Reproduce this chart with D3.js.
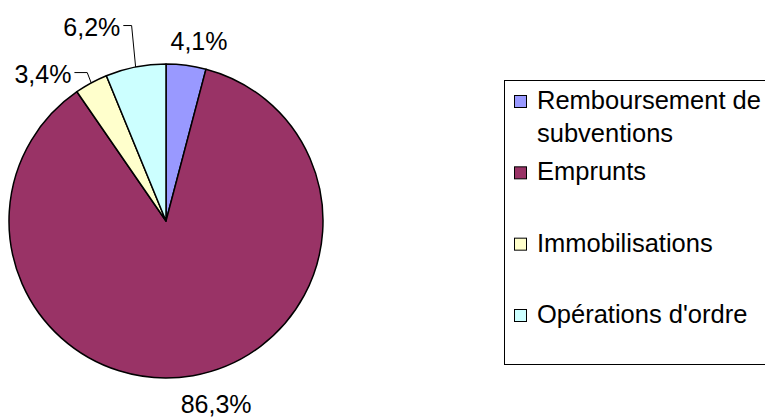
<!DOCTYPE html>
<html>
<head>
<meta charset="utf-8">
<script src="https://cdn.jsdelivr.net/npm/d3@7"></script>
<style>
  body { margin: 0; background: #fff; }
  svg { display: block; font-family: "Liberation Sans", Arial, sans-serif; }
</style>
</head>
<body>
<div id="chart"></div>
<script>
const categories = ["Remboursement de subventions", "Emprunts", "Immobilisations", "Opérations d'ordre"];
const shares = [4.1, 86.3, 3.4, 6.2];
const sliceColors = ["#9999ff", "#993366", "#ffffcc", "#ccffff"];

const width = 765, height = 417;
const cx = 166, cy = 221, radius = 157;
const labelFont = 25;
const legendFont = 25.5;

// label nudges (Excel labels dragged by hand)
const labelNudge = {
  "Remboursement de subventions": [9, 5],
  "Emprunts": [18, -1],
  "Immobilisations": [-34, 17],
  "Opérations d'ordre": [-38, -11]
};
const withLeader = new Set(["Immobilisations", "Opérations d'ordre"]);

const data = categories.map((c, i) => ({ name: c, value: shares[i] }));

const svg = d3.select("#chart")
              .append("svg")
              .attr("width", width)
              .attr("height", height);

const colorScale = d3.scaleOrdinal()
                     .domain(categories)
                     .range(sliceColors);

const pie = d3.pie()
              .value(d => d.value)
              .sort(null);

const arc = d3.arc()
              .innerRadius(0)
              .outerRadius(radius);

const arcs = pie(data);

const pieG = svg.append("g")
                .attr("transform", `translate(${cx}, ${cy})`);

pieG.selectAll("path")
    .data(arcs)
    .join("path")
    .attr("d", arc)
    .attr("fill", d => colorScale(d.data.name))
    .attr("stroke", "#000")
    .attr("stroke-width", 1.5)
    .attr("stroke-linejoin", "round");

const fmt = v => d3.format(".1f")(v).replace(".", ",") + "%";
const labelR = radius + 30;

arcs.forEach(d => {
  const mid = (d.startAngle + d.endAngle) / 2;
  const nudge = labelNudge[d.data.name] || [0, 0];
  const lx = Math.sin(mid) * labelR + nudge[0];
  const ly = -Math.cos(mid) * labelR + nudge[1];

  const label = pieG.append("text")
                    .attr("x", lx)
                    .attr("y", ly)
                    .attr("text-anchor", "middle")
                    .attr("dominant-baseline", "central")
                    .attr("fill", "#000")
                    .style("font-size", `${labelFont}px`)
                    .text(fmt(d.data.value));

  if (withLeader.has(d.data.name)) {
    const bb = label.node().getBBox();
    const ax = Math.sin(mid) * radius;
    const ay = -Math.cos(mid) * radius;
    const ky = ly - 1;
    pieG.append("polyline")
        .attr("points", `${ax},${ay} ${ax - 4},${ky} ${bb.x + bb.width + 3},${ky}`)
        .attr("fill", "none")
        .attr("stroke", "#000")
        .attr("stroke-width", 1);
  }
});

// legend
const legend = svg.append("g");

legend.append("rect")
      .attr("x", 504.5)
      .attr("y", 80.5)
      .attr("width", 270)
      .attr("height", 284)
      .attr("fill", "#fff")
      .attr("stroke", "#000")
      .attr("stroke-width", 1);

const rowY = d3.scalePoint()
               .domain(categories)
               .range([109, 323]);

const legendRows = legend.selectAll("g.row")
                         .data(categories)
                         .join("g")
                         .attr("class", "row")
                         .attr("transform", d => `translate(0, ${rowY(d)})`);

legendRows.append("rect")
          .attr("x", 514.5)
          .attr("y", -13.5)
          .attr("width", 12)
          .attr("height", 12)
          .attr("fill", d => colorScale(d))
          .attr("stroke", "#000")
          .attr("stroke-width", 1);

legendRows.append("text")
          .attr("x", 537)
          .attr("y", 0)
          .style("font-size", `${legendFont}px`)
          .attr("fill", "#000")
          .each(function(d) {
            const t = d3.select(this);
            const lines = d === "Remboursement de subventions" ? ["Remboursement de", "subventions"] : [d];
            lines.forEach((line, i) => {
              t.append("tspan")
               .attr("x", 537)
               .attr("dy", i === 0 ? 0 : 33)
               .text(line);
            });
          });
</script>
</body>
</html>
